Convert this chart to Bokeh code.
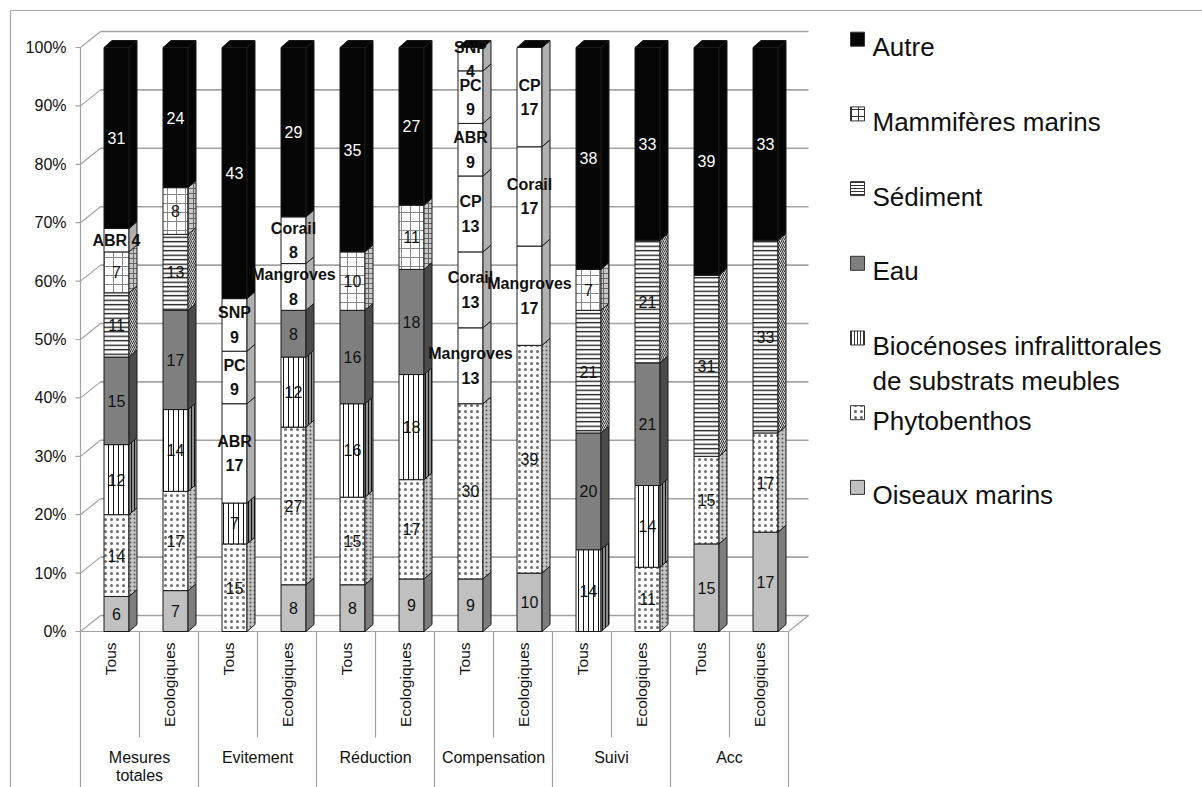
import math
from bokeh.plotting import figure
from bokeh.models import ColumnDataSource, Range1d
from bokeh.core.properties import value
from bokeh.embed import file_html
from bokeh.resources import INLINE

# ---------------- data ----------------
groups = ["Mesures totales", "Evitement", "Réduction", "Compensation", "Suivi", "Acc"]
subgroups = ["Tous", "Ecologiques"]
y_ticks = [0, 10, 20, 30, 40, 50, 60, 70, 80, 90, 100]
y_tick_labels = ["0%", "10%", "20%", "30%", "40%", "50%", "60%", "70%", "80%", "90%", "100%"]

oiseaux_marins = [6, 7, 0, 8, 8, 9, 9, 10, 0, 0, 15, 17]
phytobenthos = [14, 17, 15, 27, 15, 17, 30, 39, 0, 11, 15, 17]
biocenoses = [12, 14, 7, 12, 16, 18, 0, 0, 14, 14, 0, 0]
eau = [15, 17, 0, 8, 16, 18, 0, 0, 20, 21, 0, 0]
sediment = [11, 13, 0, 0, 0, 0, 0, 0, 21, 21, 31, 33]
mammiferes_marins = [7, 8, 0, 0, 10, 11, 0, 0, 7, 0, 0, 0]
mangroves = [0, 0, 0, 8, 0, 0, 13, 17, 0, 0, 0, 0]
corail = [0, 0, 0, 8, 0, 0, 13, 17, 0, 0, 0, 0]
cp = [0, 0, 0, 0, 0, 0, 13, 17, 0, 0, 0, 0]
abr = [4, 0, 17, 0, 0, 0, 9, 0, 0, 0, 0, 0]
pc = [0, 0, 9, 0, 0, 0, 9, 0, 0, 0, 0, 0]
snp = [0, 0, 9, 0, 0, 0, 4, 0, 0, 0, 0, 0]
autre = [31, 24, 43, 29, 35, 27, 0, 0, 38, 33, 39, 33]

# stacking order, bottom to top
stack = [
    ("Oiseaux marins", oiseaux_marins, "oiseaux"),
    ("Phytobenthos", phytobenthos, "phyto"),
    ("Biocénoses infralittorales de substrats meubles", biocenoses, "bio"),
    ("Eau", eau, "eau"),
    ("Sédiment", sediment, "sed"),
    ("Mammifères marins", mammiferes_marins, "mamm"),
    ("Mangroves", mangroves, "detail"),
    ("Corail", corail, "detail"),
    ("CP", cp, "detail"),
    ("ABR", abr, "detail"),
    ("PC", pc, "detail"),
    ("SNP", snp, "detail"),
    ("Autre", autre, "autre"),
]
legend_order = ["autre", "mamm", "sed", "eau", "bio", "phyto", "oiseaux"]
inline_detail_label = [True] + [False] * 11

# ---------------- layout ----------------
W, H, PAGE_M = 1202, 787, 0
AX_PX, SLOT_PX = 80.0, 59.0
ZERO_PY, PCT_PX = 631.0, 5.84


def X(px):
    return (px - AX_PX) / SLOT_PX


def Y(py):
    return (ZERO_PY - py) / PCT_PX


def DX(px):
    return px / SLOT_PX


def DY(px):
    return px / PCT_PX


FONT = value("Liberation Sans")
n_bars = len(groups) * len(subgroups)
BAR_OFF, BAR_W = DX(23.5), DX(25)
DEPTH_X, DEPTH_Y = DX(8), DY(7)
WALL_X, WALL_Y = DX(20), DY(16)
GRID_C = "#a3a3a3"
EDGE_C = "#1a1a1a"

p = figure(width=W, height=H,
           x_range=Range1d(X(PAGE_M), X(PAGE_M + W)),
           y_range=Range1d(Y(PAGE_M + H), Y(PAGE_M)),
           x_axis_type=None, y_axis_type=None,
           toolbar_location=None, output_backend="svg",
           min_border=0, outline_line_color=None,
           background_fill_color="white", border_fill_color="white")

# outer chart border
p.segment(x0=[X(10), X(10)], y0=[Y(10), Y(10)], x1=[X(10), X(1400)], y1=[Y(1000), Y(10)],
          line_color="#a8a8a8", line_width=1.2)

# back wall gridlines + side-wall connectors
p.segment(x0=[WALL_X] * len(y_ticks), y0=[t + WALL_Y for t in y_ticks],
          x1=[n_bars + WALL_X] * len(y_ticks), y1=[t + WALL_Y for t in y_ticks],
          line_color=GRID_C, line_width=1.6)
p.segment(x0=[0] * len(y_ticks), y0=y_ticks, x1=[WALL_X] * len(y_ticks),
          y1=[t + WALL_Y for t in y_ticks], line_color=GRID_C, line_width=1.2)
# floor right edge + front edge
p.segment(x0=[n_bars, 0], y0=[0, 0], x1=[n_bars + WALL_X, n_bars], y1=[WALL_Y, 0],
          line_color=GRID_C, line_width=1.2)

# axis line and ticks
p.segment(x0=[0], y0=[100], x1=[0], y1=[Y(1000)], line_color=GRID_C, line_width=1.2)
p.segment(x0=[DX(-5)] * len(y_ticks), y0=y_ticks, x1=[0] * len(y_ticks), y1=y_ticks,
          line_color=GRID_C, line_width=1.2)
p.text(x=[X(66)] * len(y_ticks), y=y_ticks, text=y_tick_labels, text_font=FONT,
       text_font_size="16px", text_align="right", text_baseline="middle", text_color="#111")

# category table
sub_sep = [2 * g + 1 for g in range(len(groups))]
grp_sep = [2 * g for g in range(1, len(groups) + 1)]
p.segment(x0=sub_sep, y0=[0] * len(sub_sep), x1=sub_sep, y1=[Y(737)] * len(sub_sep),
          line_color=GRID_C, line_width=1.2)
p.segment(x0=grp_sep, y0=[0] * len(grp_sep), x1=grp_sep, y1=[Y(1000)] * len(grp_sep),
          line_color=GRID_C, line_width=1.2)

p.text(x=[i + 0.5 for i in range(n_bars)], y=[Y(642)] * n_bars,
       text=[subgroups[i % 2] for i in range(n_bars)], angle=math.pi / 2,
       text_font=FONT, text_font_size="15.5px", text_align="right",
       text_baseline="middle", text_color="#111")

gx, gy, gt = [], [], []
for g, name in enumerate(groups):
    lines = name.split(" ") if len(name) > 12 else [name]
    for k, ln in enumerate(lines):
        gx.append(2 * g + 1)
        gy.append(Y(757 + 18 * k))
        gt.append(ln)
p.text(x=gx, y=gy, text=gt, text_font=FONT, text_font_size="16px", text_align="center",
       text_baseline="middle", text_color="#111")

# ---------------- bars ----------------
STYLE = {
    "oiseaux": (dict(fill_color="#c0c0c0"), dict(fill_color="#7d7d7d")),
    "phyto": (dict(fill_color="white", hatch_pattern="dot", hatch_color="#6e6e6e", hatch_scale=6, hatch_weight=0.4),
              dict(fill_color="#c4c4c4", hatch_pattern="dot", hatch_color="#555", hatch_scale=4, hatch_weight=0.4)),
    "bio": (dict(fill_color="white", hatch_pattern="vertical_line", hatch_color="#111", hatch_scale=5, hatch_weight=1),
            dict(fill_color="#8c8c8c", hatch_pattern="vertical_line", hatch_color="#111", hatch_scale=3, hatch_weight=1)),
    "eau": (dict(fill_color="#7f7f7f"), dict(fill_color="#4a4a4a")),
    "sed": (dict(fill_color="white", hatch_pattern="horizontal_line", hatch_color="#111", hatch_scale=4.5, hatch_weight=1.3),
            dict(fill_color="#d0d0d0", hatch_pattern="right_diagonal_line", hatch_color="#333", hatch_scale=4, hatch_weight=1)),
    "mamm": (dict(fill_color="white", hatch_pattern="cross", hatch_color="#888", hatch_scale=9, hatch_weight=1),
             dict(fill_color="#c8c8c8", hatch_pattern="cross", hatch_color="#666", hatch_scale=5, hatch_weight=1)),
    "detail": (dict(fill_color="white"), dict(fill_color="#b0b0b0")),
    "autre": (dict(fill_color="#050505"), dict(fill_color="#050505")),
}

fronts = {k: dict(left=[], right=[], bottom=[], top=[]) for k in STYLE}
sides = {k: dict(xs=[], ys=[]) for k in STYLE}
tops = dict(xs=[], ys=[])
lab_norm = dict(x=[], y=[], text=[], color=[])
lab_bold = dict(x=[], y=[], text=[])

for i in range(n_bars):
    l = i + BAR_OFF
    r = l + BAR_W
    cx = (l + r) / 2
    b = 0
    for name, vals, key in stack:
        v = vals[i]
        if v <= 0:
            continue
        t = b + v
        f = fronts[key]
        f["left"].append(l); f["right"].append(r); f["bottom"].append(b); f["top"].append(t)
        sides[key]["xs"].append([r, r + DEPTH_X, r + DEPTH_X, r])
        sides[key]["ys"].append([b, b + DEPTH_Y, t + DEPTH_Y, t])
        mid = b + v / 2
        if key == "detail":
            if inline_detail_label[i]:
                lab_bold["x"].append(cx); lab_bold["y"].append(mid); lab_bold["text"].append(f"{name} {v}")
            else:
                lab_bold["x"] += [cx, cx]
                lab_bold["y"] += [mid + DY(12), mid - DY(12)]
                lab_bold["text"] += [name, str(v)]
        else:
            lab_norm["x"].append(cx); lab_norm["y"].append(mid); lab_norm["text"].append(str(v))
            lab_norm["color"].append("white" if key == "autre" else "#111")
        b = t
    tops["xs"].append([l, r, r + DEPTH_X, l + DEPTH_X])
    tops["ys"].append([b, b, b + DEPTH_Y, b + DEPTH_Y])

for key, (fs, ss) in STYLE.items():
    if fronts[key]["left"]:
        p.quad(source=ColumnDataSource(fronts[key]), left="left", right="right",
               bottom="bottom", top="top", line_color=EDGE_C, line_width=1, **fs)
        p.patches(source=ColumnDataSource(sides[key]), xs="xs", ys="ys",
                  line_color=EDGE_C, line_width=1, **ss)
p.patches(source=ColumnDataSource(tops), xs="xs", ys="ys", fill_color="#050505",
          line_color=EDGE_C, line_width=1)

p.text(source=ColumnDataSource(lab_norm), x="x", y="y", text="text", text_color="color",
       text_font=FONT, text_font_size="16px", text_align="center", text_baseline="middle")
p.text(source=ColumnDataSource(lab_bold), x="x", y="y", text="text", text_color="#111",
       text_font=FONT, text_font_size="16px", text_font_style="bold",
       text_align="center", text_baseline="middle")

# ---------------- legend ----------------
LEG_STYLE = {
    "autre": dict(fill_color="#050505"),
    "mamm": dict(fill_color="white", hatch_pattern="cross", hatch_color="#333", hatch_scale=7, hatch_weight=1),
    "sed": dict(fill_color="white", hatch_pattern="horizontal_line", hatch_color="#333", hatch_scale=3, hatch_weight=1),
    "eau": dict(fill_color="#7f7f7f"),
    "bio": dict(fill_color="white", hatch_pattern="vertical_line", hatch_color="#333", hatch_scale=3, hatch_weight=1),
    "phyto": dict(fill_color="white", hatch_pattern="dot", hatch_color="#666", hatch_scale=6, hatch_weight=0.4),
    "oiseaux": dict(fill_color="#c0c0c0"),
}
names = {key: name for name, vals, key in stack}
lt = dict(x=[], y=[], text=[])
for j, key in enumerate(legend_order):
    base = 46.7 + 74.7 * j
    p.rect(x=[X(857)], y=[Y(base - 8)], width=14, height=14, width_units="screen",
           height_units="screen", line_color="#333", line_width=1, **LEG_STYLE[key])
    nm = names[key]
    lines = nm.replace(" de ", "\nde ").split("\n")
    for k, ln in enumerate(lines):
        lt["x"].append(X(872)); lt["y"].append(Y(base + 35 * k)); lt["text"].append(ln)
p.text(source=ColumnDataSource(lt), x="x", y="y", text="text", text_color="#111",
       text_font=FONT, text_font_size="26px", text_align="left", text_baseline="alphabetic")

open("out.html", "w").write(file_html(p, INLINE))
